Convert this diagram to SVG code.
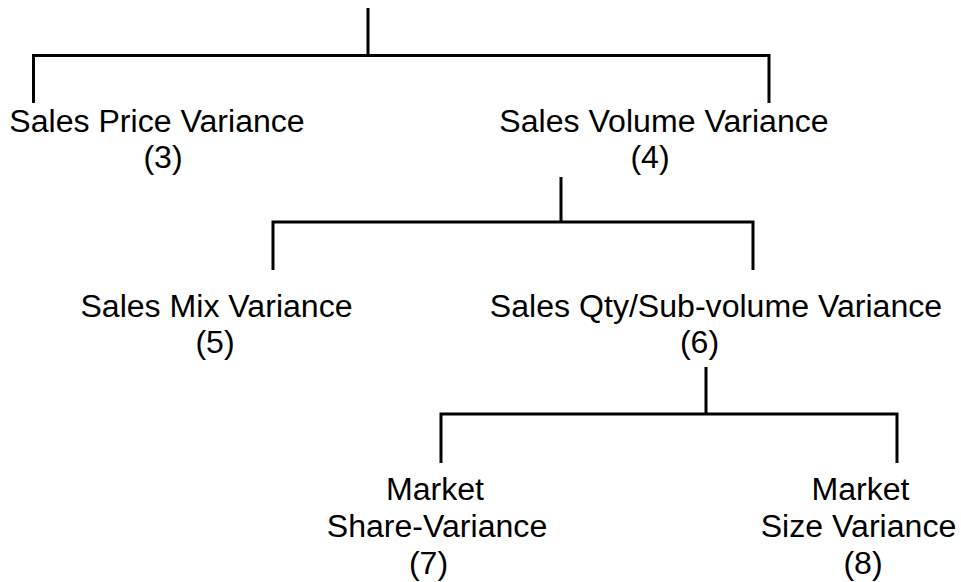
<svg xmlns="http://www.w3.org/2000/svg" width="961" height="582" viewBox="0 0 961 582">
<style>
.t{font-family:"Liberation Sans",Arial,sans-serif;font-size:32.1px;fill:#000;text-anchor:middle}
.c{stroke:#000;stroke-width:3;fill:none;stroke-linecap:butt;stroke-linejoin:miter}
</style>
<rect width="961" height="582" fill="#fff"/>
<g id="connectors">
<path class="c" d="M368 8V55.5M33.5 103V55.5H769V103"/>
<path class="c" d="M561 177V222M273 270V222H753V270"/>
<path class="c" d="M706 367V414M441 463V414H897V463"/>
</g>
<g id="n3">
<text class="t" x="157" y="132">Sales Price Variance</text>
<text class="t" x="163" y="168">(3)</text>
</g>
<g id="n4">
<text class="t" x="664" y="132">Sales Volume Variance</text>
<text class="t" x="650" y="168">(4)</text>
</g>
<g id="n5">
<text class="t" x="216.5" y="317">Sales Mix Variance</text>
<text class="t" x="215" y="353">(5)</text>
</g>
<g id="n6">
<text class="t" x="716" y="317">Sales Qty/Sub-volume Variance</text>
<text class="t" x="699.5" y="353">(6)</text>
</g>
<g id="n7">
<text class="t" x="435" y="499.5">Market</text>
<text class="t" x="437" y="537">Share-Variance</text>
<text class="t" x="428.5" y="573.5">(7)</text>
</g>
<g id="n8">
<text class="t" x="860.5" y="499.5">Market</text>
<text class="t" x="858.5" y="537">Size Variance</text>
<text class="t" x="863" y="573.5">(8)</text>
</g>
</svg>
